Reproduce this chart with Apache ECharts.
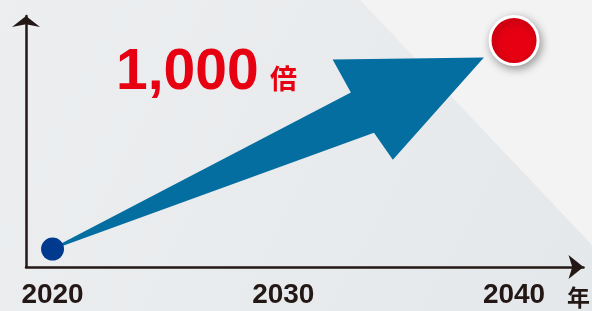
<!DOCTYPE html>
<html>
<head>
<meta charset="utf-8">
<script src="https://cdn.jsdelivr.net/npm/echarts@6/dist/echarts.min.js"></script>
<style>
html,body{margin:0;padding:0;background:#e8eaec;}
#c{width:592px;height:311px;}
</style>
</head>
<body>
<div id="c"></div>
<script>
// ---- data ----
const years = [2020, 2040];          // start and end year
const multiples = [1, 1000];         // growth: 1 -> 1,000 times
const tickYears = [2020, 2030, 2040];
const ratioLabel = '1,000';
const ratioUnit = '倍';
const yearUnit = '年';

const chart = echarts.init(document.getElementById('c'), null, {renderer: 'canvas'});

// arrow outline in (along, across) fractions of start->end length
const arrowShape = [
  [0.0158, -0.0024],
  [0.664, -0.0389],
  [0.658, -0.1131],
  [0.932, 0.0061],
  [0.685, 0.116],
  [0.673, 0.052],
  [0.0158, 0.0024]
];

const dotStyles = [
  {symbolSize: 23, itemStyle: {color: '#003a8e', opacity: 1}},
  {symbolSize: 48, itemStyle: {color: '#e60012', opacity: 1, borderColor: '#ffffff', borderWidth: 3,
    shadowBlur: 8, shadowColor: 'rgba(0,0,0,0.35)', shadowOffsetX: 2, shadowOffsetY: 3}}
];

const axisColor = '#231815';

chart.setOption({
  animation: false,
  backgroundColor: 'transparent',
  graphic: [
    {type: 'rect', z: -10, silent: true, shape: {x: 0, y: 0, width: 592, height: 311},
      style: {fill: new echarts.graphic.LinearGradient(0, 0, 1, 1, [
        {offset: 0, color: '#eceef0'}, {offset: 1, color: '#e5e8ea'}])}},
    {type: 'polygon', z: -9, silent: true, shape: {points: [[360, 0], [592, 0], [592, 245]]},
      style: {fill: '#f3f3f4'}},
    {type: 'text', z: 10, x: 116, y: 73, style: {text: ratioLabel, fill: '#e60012',
      font: 'bold 57px "Liberation Sans", Arial, sans-serif', verticalAlign: 'middle', align: 'left'}},
    {type: 'text', z: 10, x: 270, y: 79, style: {text: ratioUnit, fill: '#e60012',
      font: 'bold 27px "Noto Sans CJK JP", sans-serif', verticalAlign: 'middle', align: 'left'}},
    {type: 'text', z: 10, x: 567, y: 297, style: {text: yearUnit, fill: axisColor,
      font: 'bold 23px "Noto Sans CJK JP", sans-serif', verticalAlign: 'middle', align: 'left'}}
  ],
  grid: {left: 26, right: 8.5, top: 16, bottom: 44},
  xAxis: {
    type: 'value', min: 2018.85, max: 2043.01,
    splitLine: {show: false},
    axisTick: {show: false},
    axisLine: {show: true, onZero: false, symbol: ['none', 'arrow'], symbolSize: [18, 15],
      lineStyle: {color: axisColor, width: 2.5}},
    axisLabel: {show: true, customValues: tickYears, margin: 14, color: axisColor,
      fontSize: 28, fontWeight: 'bold', fontFamily: '"Liberation Sans", Arial, sans-serif',
      formatter: v => String(v)}
  },
  yAxis: {
    type: 'log', min: 0.551, max: 2252,
    splitLine: {show: false},
    axisTick: {show: false},
    axisLabel: {show: false},
    axisLine: {show: true, onZero: false, symbol: ['none', 'arrow'], symbolSize: [21, 11],
      lineStyle: {color: axisColor, width: 2.5}}
  },
  series: [
    {
      type: 'custom', z: 2,
      data: [[years[0], multiples[0], years[1], multiples[1]]],
      renderItem: function (params, api) {
        const s = api.coord([api.value(0), api.value(1)]);
        const e = api.coord([api.value(2), api.value(3)]);
        const dx = e[0] - s[0], dy = e[1] - s[1];
        const L = Math.sqrt(dx * dx + dy * dy);
        const d = [dx / L, dy / L];
        const n = [-d[1], d[0]];
        const pts = arrowShape.map(p => [
          s[0] + d[0] * p[0] * L + n[0] * p[1] * L,
          s[1] + d[1] * p[0] * L + n[1] * p[1] * L
        ]);
        return {type: 'polygon', shape: {points: pts}, style: {fill: '#036e9f'}};
      }
    },
    {
      type: 'scatter', z: 5,
      data: years.map((y, i) => Object.assign({value: [y, multiples[i]]}, dotStyles[i]))
    }
  ]
});
</script>
</body>
</html>
